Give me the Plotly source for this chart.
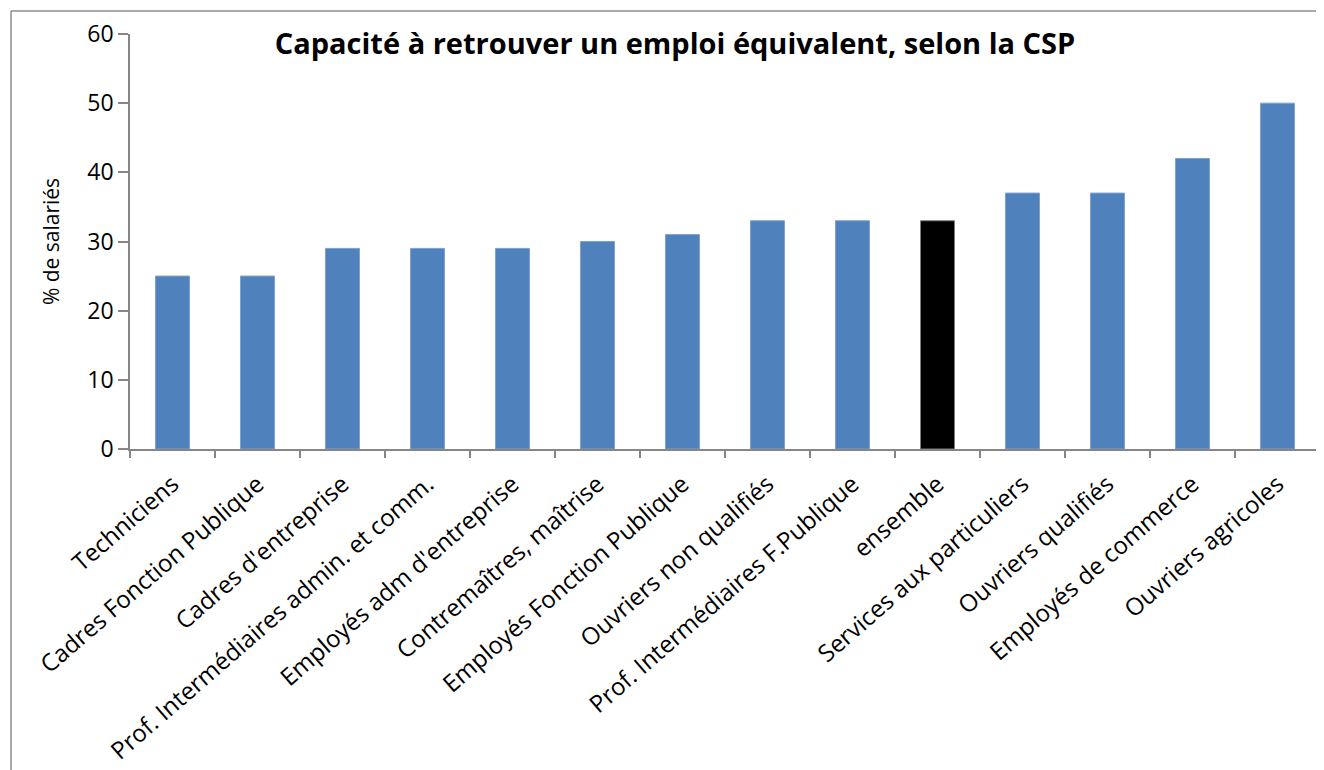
import plotly.graph_objects as go

categories = [
    "Techniciens",
    "Cadres Fonction Publique",
    "Cadres d'entreprise",
    "Prof. Intermédiaires admin. et comm.",
    "Employés adm d'entreprise",
    "Contremaîtres, maîtrise",
    "Employés Fonction Publique",
    "Ouvriers non qualifiés",
    "Prof. Intermédiaires F.Publique",
    "ensemble",
    "Services aux particuliers",
    "Ouvriers qualifiés",
    "Employés de commerce",
    "Ouvriers agricoles",
]
values = [25, 25, 29, 29, 29, 30, 31, 33, 33, 33, 37, 37, 42, 50]
highlight = "ensemble"

title_text = "Capacité à retrouver un emploi équivalent, selon la CSP"
y_title = "% de salariés"
y_ticks = [0, 10, 20, 30, 40, 50, 60]

BLUE = "#4F81BD"
FONT = "Open Sans"

colors = ["#000000" if c == highlight else BLUE for c in categories]
edge = ["#7F7F7F" if c == highlight else "#7EA1CE" for c in categories]

fig = go.Figure(
    go.Bar(
        x=categories,
        y=values,
        marker=dict(color=colors, line=dict(color=edge, width=1)),
        width=0.4,
    )
)

axis_gray = "#868686"

# page body has an 8px margin; figure sized so that plot lands at reference pixels
W, H = 1316, 762
L, T, R, B = 122, 26, 4, 319
pw = W - L - R
ph = H - T - B

fig.update_layout(
    width=W,
    height=H,
    margin=dict(l=L, r=R, t=T, b=B),
    paper_bgcolor="white",
    plot_bgcolor="white",
    showlegend=False,
    font=dict(family=FONT, color="#000000"),
    title=dict(
        text="<b>" + title_text + "</b>",
        x=(667 - L) / pw,
        xanchor="center",
        xref="paper",
        y=1 - 36 / H,
        yanchor="middle",
        yref="container",
        font=dict(family=FONT, size=29, color="#000000"),
    ),
    xaxis=dict(
        type="category",
        showline=True,
        linecolor=axis_gray,
        linewidth=1.5,
        ticks="outside",
        tickson="boundaries",
        ticklen=7,
        tickcolor=axis_gray,
        tickwidth=1.5,
        tickangle=-41,
        ticklabelstandoff=10,
        tickfont=dict(family=FONT, size=24, color="#000000"),
        showgrid=False,
        zeroline=False,
    ),
    yaxis=dict(
        range=[0, 60],
        tickvals=y_ticks,
        showline=True,
        linecolor=axis_gray,
        linewidth=1.5,
        ticks="outside",
        ticklen=10,
        tickcolor=axis_gray,
        tickwidth=1.5,
        tickfont=dict(family=FONT, size=23, color="#000000"),
        showgrid=False,
        zeroline=False,
        title=dict(text=y_title, font=dict(family=FONT, size=21, color="#000000"), standoff=22),
    ),
)

# outer chart border (top and left edges visible)
x_left = (3 - L) / pw
y_top = (ph + T - 3) / ph
y_bottom = -(B + 20) / ph
x_right = (W + 20 - L) / pw
fig.add_shape(type="line", xref="paper", yref="paper", x0=x_left, x1=x_left, y0=y_bottom, y1=y_top,
              line=dict(color="#8C8C8C", width=1.5))
fig.add_shape(type="line", xref="paper", yref="paper", x0=x_left, x1=x_right, y0=y_top, y1=y_top,
              line=dict(color="#8C8C8C", width=1.5))

fig.write_html("out.html")
